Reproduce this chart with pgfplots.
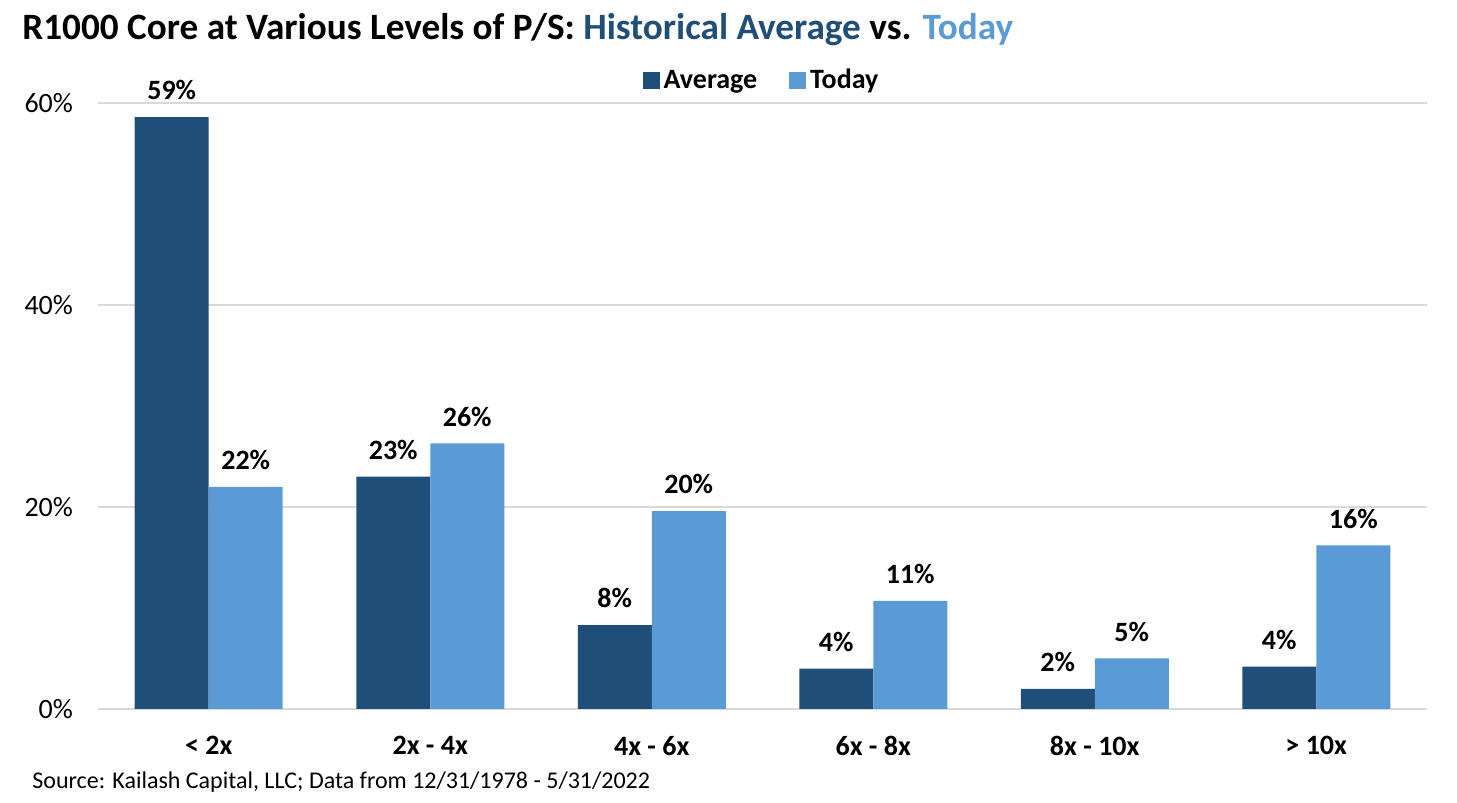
\documentclass[border=0pt]{standalone}
\usepackage{fontspec}
\setmainfont{Carlito}
\usepackage{pgfplots}
\pgfplotsset{compat=1.18}
\definecolor{avg}{HTML}{1F4E79}
\definecolor{tod}{HTML}{5B9BD5}
\definecolor{gridc}{HTML}{D9D9D9}
\begin{document}
\begin{tikzpicture}
\useasboundingbox (-49pt,-47pt) rectangle (679.5pt,354.5pt);
\begin{axis}[
  at={(0,0)}, anchor=south west,
  scale only axis, width=664.5pt, height=303pt,
  xmin=-0.5, xmax=5.5, ymin=0, ymax=60,
  ybar=0pt, bar width=37pt,
  axis line style={draw=none},
  major tick length=0pt,
  ymajorgrids, grid style={gridc, line width=1pt},
  ytick={0,20,40,60}, yticklabels={0\%,20\%,40\%,60\%},
  xtick={0,1,2,3,4,5},
  xticklabels={{\textless{} 2x},{2x - 4x},{4x - 6x},{6x - 8x},{8x - 10x},{\textgreater{} 10x}},
  yticklabel style={font=\fontsize{14pt}{16pt}\selectfont, xshift=-9pt},
  xticklabel style={font=\bfseries\fontsize{14pt}{16pt}\selectfont, yshift=-10pt},
  /pgf/number format/assume math mode=true,
  nodes near coords={\pgfmathprintnumber[fixed,precision=0]{\pgfplotspointmeta}\%},
  nodes near coords style={font=\bfseries\fontsize{14pt}{16pt}\selectfont, yshift=5pt, text=black},
  legend style={at={(0.5,1.037)}, anchor=center, draw=none, fill=none,
    font=\bfseries\fontsize{14pt}{16pt}\selectfont,
    /tikz/every even column/.append style={column sep=14pt}},
  legend columns=2,
  legend image code/.code={\fill[#1] (0pt,-4.25pt) rectangle (8.5pt,4.25pt);},
  clip=false,
]
\addplot[fill=avg, draw=none] coordinates {(0,58.6) (1,23.0) (2,8.3) (3,4.0) (4,2.0) (5,4.2)};
\addplot[fill=tod, draw=none] coordinates {(0,22.0) (1,26.3) (2,19.6) (3,10.7) (4,5.0) (5,16.2)};
\legend{Average, Today}
\end{axis}
\node[anchor=base west, inner sep=0, font=\bfseries\fontsize{18.6pt}{21pt}\selectfont] at (-38pt,334.5pt) {R1000 Core at Various Levels of P/S: \textcolor{avg}{Historical Average} vs. \textcolor{tod}{Today}};
\node[anchor=base west, inner sep=0, font=\fontsize{12pt}{14pt}\selectfont] at (-33pt,-40pt) {Source: Kailash Capital, LLC; Data from 12/31/1978 - 5/31/2022};
\end{tikzpicture}
\end{document}
